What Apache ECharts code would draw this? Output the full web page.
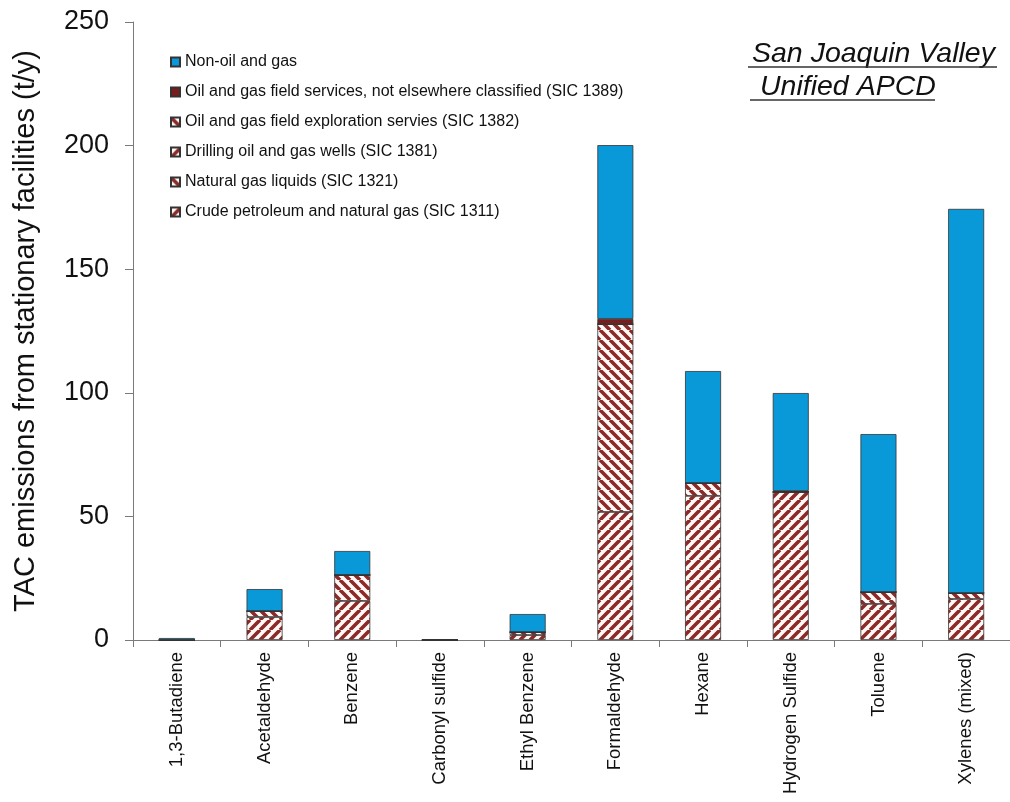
<!DOCTYPE html>
<html>
<head>
<meta charset="utf-8">
<script src="https://cdn.jsdelivr.net/npm/echarts@6/dist/echarts.min.js"></script>
<style>
html,body{margin:0;padding:0;background:#fff;}
#chart{width:1010px;height:802px;}
</style>
</head>
<body>
<div id="chart"></div>
<script>
// ---- data ----
const categories = ['1,3-Butadiene','Acetaldehyde','Benzene','Carbonyl sulfide','Ethyl Benzene','Formaldehyde','Hexane','Hydrogen Sulfide','Toluene','Xylenes (mixed)'];
const crude1311    = [0, 9.3, 15.8, 0, 2.0, 51.8, 58.3, 59.9, 14.6, 16.6];
const ngl1321      = [0, 2.4, 10.5, 0, 1.2, 76.0, 5.2, 0, 4.8, 2.4];
const drilling1381 = [0, 0, 0, 0, 0, 0, 0, 0, 0, 0];
const explor1382   = [0, 0, 0, 0, 0, 0, 0, 0, 0, 0];
const services1389 = [0, 0, 0, 0, 0, 2.1, 0, 0.4, 0, 0];
const nonOilGas    = [0.8, 8.9, 9.7, 0, 7.3, 70.3, 45.3, 39.6, 63.9, 155.4];
const yTicks = [0, 50, 100, 150, 200, 250];

const names = {
  non: 'Non-oil and gas',
  s1389: 'Oil and gas field services, not elsewhere classified (SIC 1389)',
  s1382: 'Oil and gas field exploration servies (SIC 1382)',
  s1381: 'Drilling oil and gas wells (SIC 1381)',
  s1321: 'Natural gas liquids (SIC 1321)',
  s1311: 'Crude petroleum and natural gas (SIC 1311)'
};

const FONT = 'Liberation Sans, Arial, sans-serif';
const RED = '#8c2a2a';
function stripe(dir){
  const s = 10;
  const c = document.createElement('canvas');
  c.width = s; c.height = s;
  const g = c.getContext('2d');
  g.fillStyle = '#fffaf6';
  g.fillRect(0,0,s,s);
  g.strokeStyle = RED;
  g.lineWidth = 3.6;
  g.beginPath();
  for (let k=-1;k<=1;k++){
    if (dir === '/') { g.moveTo(k*s, s); g.lineTo(k*s+s, 0); }
    else { g.moveTo(k*s, 0); g.lineTo(k*s+s, s); }
  }
  g.stroke();
  return {image: c, repeat: 'repeat'};
}

const border = {borderColor:'#333', borderWidth:0.8};
function bar(name, data, color){
  return {
    name, type:'bar', stack:'total', data, barWidth:36,
    itemStyle: Object.assign({color}, border),
    emphasis:{disabled:true}
  };
}

const chart = echarts.init(document.getElementById('chart'), null, {renderer:'canvas'});
chart.setOption({
  animation:false,
  backgroundColor:'#fff',
  textStyle:{fontFamily:FONT},
  grid:{left:133, right:-8, top:22, bottom:162, containLabel:false},
  legend:{
    orient:'vertical', left:165, top:49, itemWidth:9, itemHeight:9, itemGap:14,
    icon:'rect',
    textStyle:{fontSize:16, color:'#111', fontFamily:FONT},
    data:[names.non, names.s1389, names.s1382, names.s1381, names.s1321, names.s1311]
  },
  xAxis:{
    type:'category', data:categories,
    axisLine:{lineStyle:{color:'#7a7a7a', width:1}},
    axisTick:{show:true, length:7, lineStyle:{color:'#7a7a7a'}},
    axisLabel:{rotate:90, fontSize:18.5, color:'#111', margin:12, interval:0, fontFamily:FONT}
  },
  yAxis:{
    type:'value', min:0, max:250, interval:50,
    name:'TAC emissions from stationary facilities (t/y)',
    nameLocation:'middle', nameGap:93, nameRotate:90,
    nameTextStyle:{fontSize:29, color:'#111', fontFamily:FONT},
    axisLine:{show:true, lineStyle:{color:'#7a7a7a', width:1}},
    axisTick:{show:true, inside:false, length:8, lineStyle:{color:'#7a7a7a'}},
    splitLine:{show:false},
    axisLabel:{fontSize:27, color:'#111', margin:24, fontFamily:FONT,
      formatter: v => yTicks.includes(v) ? String(v) : ''}
  },
  graphic:[
    {type:'text', left:752, top:40, style:{text:'San Joaquin Valley', fontSize:28.5, fontStyle:'italic', fill:'#111', fontFamily:FONT}},
    {type:'line', shape:{x1:748, y1:67, x2:997, y2:67}, style:{stroke:'#333', lineWidth:1.5}},
    {type:'text', left:760, top:73, style:{text:'Unified APCD', fontSize:28.5, fontStyle:'italic', fill:'#111', fontFamily:FONT}},
    {type:'line', shape:{x1:750, y1:100, x2:935, y2:100}, style:{stroke:'#333', lineWidth:1.5}}
  ],
  series:[
    bar(names.s1311, crude1311, stripe('/')),
    bar(names.s1321, ngl1321, stripe('\\')),
    bar(names.s1381, drilling1381, stripe('/')),
    bar(names.s1382, explor1382, stripe('\\')),
    bar(names.s1389, services1389, '#7a1c1c'),
    bar(names.non, nonOilGas, '#0a99d8')
  ]
});
</script>
</body>
</html>
